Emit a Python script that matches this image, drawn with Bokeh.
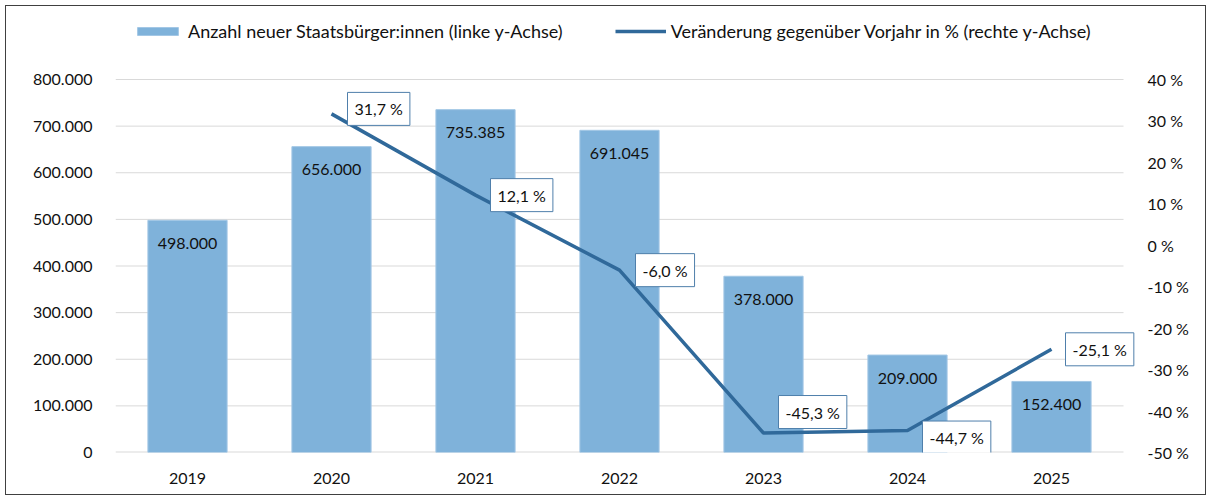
from bokeh.plotting import figure
from bokeh.models import (ColumnDataSource, Range1d, LinearAxis, FixedTicker,
                          Legend, LegendItem, Label)
from bokeh.embed import file_html
from bokeh.resources import INLINE

years = ["2019", "2020", "2021", "2022", "2023", "2024", "2025"]
counts = [498000, 656000, 735385, 691045, 378000, 209000, 152400]
count_labels = ["498.000", "656.000", "735.385", "691.045", "378.000", "209.000", "152.400"]
pct_years = ["2020", "2021", "2022", "2023", "2024", "2025"]
pct = [31.7, 12.1, -6.0, -45.3, -44.7, -25.1]
pct_labels = ["31,7 %", "12,1 %", "-6,0 %", "-45,3 %", "-44,7 %", "-25,1 %"]
left_ticks = [0, 100000, 200000, 300000, 400000, 500000, 600000, 700000, 800000]
left_tick_labels = ["0", "100.000", "200.000", "300.000", "400.000", "500.000",
                    "600.000", "700.000", "800.000"]
right_ticks = [-50, -40, -30, -20, -10, 0, 10, 20, 30, 40]
right_tick_labels = ["-50 %", "-40 %", "-30 %", "-20 %", "-10 %", "0 %",
                     "10 %", "20 %", "30 %", "40 %"]
bar_name = "Anzahl neuer Staatsbürger:innen (linke y-Achse)"
line_name = "Veränderung gegenüber Vorjahr in % (rechte y-Achse)"

FONT = "Lato"
BAR = "#7fb2da"
LINE = "#30699a"
GRID = "#d9d9d9"
TXT = "#111111"

# page geometry (px)
OFF = 6                      # figure origin inside the outer border
FRAME_L, FRAME_R, FRAME_T, FRAME_B = 115, 1140, 12, 452
AXIS_TOP = 79                # where 800.000 / 40 % sit
W, H = 1201, 490
CAT_PX = 144.0

n = len(years)
xpos = [i + 0.5 for i in range(n)]
x_end = (FRAME_R - FRAME_L) / CAT_PX
scale = (FRAME_B - FRAME_T) / (FRAME_B - AXIS_TOP)
y_top = left_ticks[-1] * scale
r_lo, r_hi = right_ticks[0], right_ticks[-1]
r_top = r_lo + (r_hi - r_lo) * scale

p = figure(x_range=Range1d(0, x_end), y_range=Range1d(0, y_top), width=W, height=H,
           output_backend="svg", toolbar_location=None,
           min_border_left=FRAME_L - OFF, min_border_right=OFF + W - FRAME_R,
           min_border_top=FRAME_T - OFF, min_border_bottom=OFF + H - FRAME_B)
p.margin = (5, 0, 0, 5)
p.styles = {"border": "1px solid #404040"}
p.outline_line_color = None
p.extra_y_ranges = {"pct": Range1d(r_lo, r_top)}
p.xgrid.grid_line_color = None
p.ygrid.grid_line_color = None

# gridlines (only over the category span)
p.segment(x0=[0] * (len(left_ticks) - 1), x1=[n] * (len(left_ticks) - 1),
          y0=left_ticks[1:], y1=left_ticks[1:], line_color=GRID, line_width=1)
p.segment(x0=[0], x1=[n], y0=[0], y1=[0], line_color=GRID, line_width=2)

src = ColumnDataSource(dict(x=xpos, y=counts, lab=count_labels))
bars = p.vbar(x="x", top="y", width=0.55, source=src, fill_color=BAR,
              line_color="#a3c7e5", line_width=1)
p.text(x="x", y="y", text="lab", source=src, text_align="center",
       text_baseline="middle", y_offset=23, text_font_size="16px",
       text_color=TXT, text_font={"value": FONT})

lx = [years.index(y) + 0.5 for y in pct_years]
lsrc = ColumnDataSource(dict(x=lx, y=pct))
line = p.line(x="x", y="y", source=lsrc, y_range_name="pct", line_color=LINE,
              line_width=3.5)

# callouts
offsets = [(16, 5), (15, 0), (16, 0), (15, 21), (15, -7), (14, 0)]
for xv, yv, lab, (dx, dy) in zip(lx, pct, pct_labels, offsets):
    p.add_layout(Label(x=xv, y=yv, y_range_name="pct", text=lab,
                       x_offset=dx, y_offset=dy, text_align="left",
                       text_baseline="middle", text_font_size="16px",
                       text_font=FONT, text_color=TXT,
                       background_fill_color="white",
                       border_line_color="#4f7fab", border_line_width=1,
                       padding=7))

# axes
p.xaxis.ticker = FixedTicker(ticks=xpos)
p.xaxis.major_label_overrides = {x: y for x, y in zip(xpos, years)}
p.xaxis.axis_line_color = None
p.xaxis.major_tick_line_color = None
p.xaxis.minor_tick_line_color = None
p.xaxis.major_label_standoff = 14

p.yaxis.ticker = FixedTicker(ticks=left_ticks)
p.yaxis.major_label_overrides = {t: l for t, l in zip(left_ticks, left_tick_labels)}
p.yaxis.axis_line_color = None
p.yaxis.major_tick_line_color = None
p.yaxis.minor_tick_line_color = None
p.yaxis.major_label_standoff = 17

ra = LinearAxis(y_range_name="pct", ticker=FixedTicker(ticks=right_ticks),
                major_label_overrides={t: l for t, l in zip(right_ticks, right_tick_labels)})
ra.axis_line_color = None
ra.major_tick_line_color = None
ra.minor_tick_line_color = None
ra.major_label_standoff = 1
p.add_layout(ra, "right")

for ax in (p.yaxis[0], ra, p.xaxis[0]):
    ax.major_label_text_font = FONT
    ax.major_label_text_font_size = "16px"
    ax.major_label_text_color = TXT

legend = Legend(items=[LegendItem(label=bar_name, renderers=[bars]),
                       LegendItem(label=line_name, renderers=[line])],
                orientation="horizontal", location=(17, 410),
                border_line_color=None, background_fill_alpha=0,
                label_text_font=FONT, label_text_font_size="18px",
                label_text_color=TXT, glyph_width=51, glyph_height=10,
                spacing=52, label_standoff=5, margin=0, padding=0)
p.add_layout(legend)

open("out.html", "w").write(file_html(p, INLINE))
